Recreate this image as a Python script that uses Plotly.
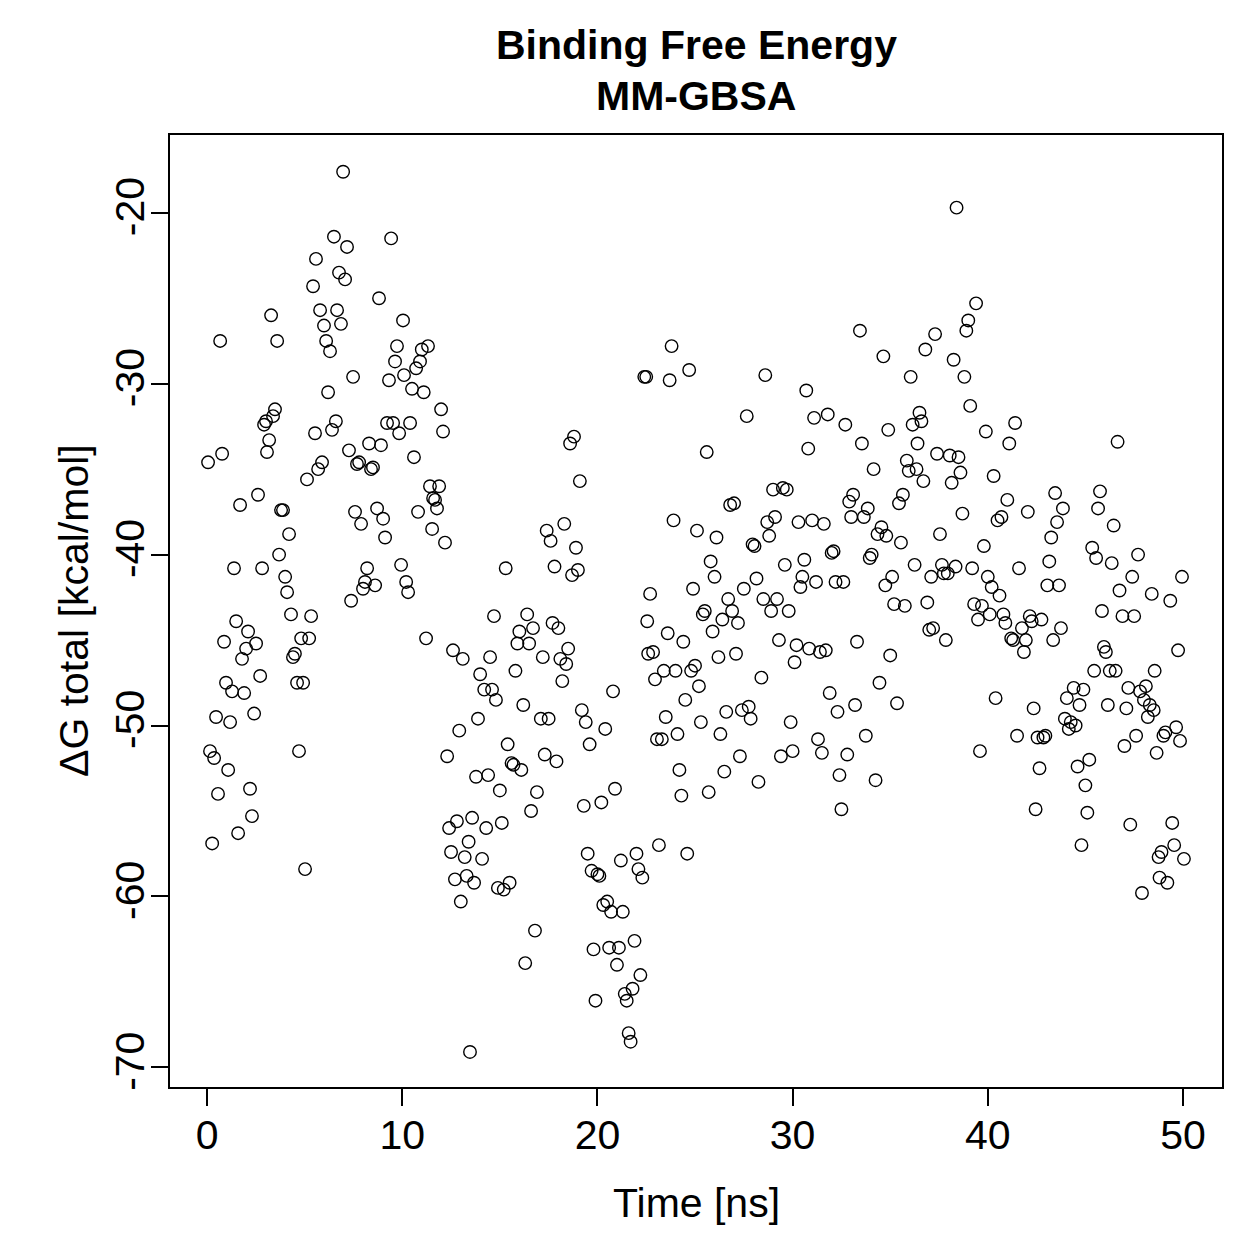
import plotly.graph_objects as go

# Time [ns] and binding free energy [kcal/mol]
time_ns = [
0.05,0.15,0.26,0.36,0.46,0.56,0.67,0.77,0.87,0.97,1.08,1.18,1.28,1.38,1.49,1.59,1.69,1.79,1.90,2.0,
2.1,2.2,2.3,2.41,2.51,2.61,2.72,2.82,2.92,3.02,3.07,3.18,3.28,3.38,3.48,3.59,3.69,3.79,3.89,4.0,
4.1,4.2,4.3,4.4,4.5,4.61,4.71,4.82,4.92,5.02,5.12,5.23,5.33,5.43,5.53,5.58,5.69,5.79,5.89,5.99,
6.1,6.2,6.3,6.4,6.5,6.6,6.66,6.76,6.86,6.97,7.07,7.17,7.27,7.38,7.48,7.58,7.68,7.79,7.89,7.99,
8.09,8.2,8.3,8.4,8.5,8.61,8.71,8.81,8.91,9.02,9.12,9.22,9.32,9.43,9.53,9.63,9.73,9.84,9.94,10.04,
10.09,10.2,10.3,10.4,10.5,10.6,10.71,10.81,10.91,11.0,11.1,11.22,11.32,11.42,11.53,11.58,11.68,11.78,11.89,11.99,
12.09,12.19,12.3,12.4,12.5,12.6,12.7,12.8,12.92,13.0,13.1,13.2,13.3,13.4,13.47,13.58,13.68,13.78,13.88,13.99,
14.09,14.2,14.3,14.4,14.5,14.6,14.7,14.8,14.9,15.0,15.1,15.2,15.3,15.4,15.5,15.6,15.7,15.8,15.9,16.0,
16.1,16.2,16.3,16.4,16.5,16.6,16.7,16.8,16.9,17.1,17.2,17.3,17.4,17.5,17.6,17.7,17.8,17.9,18.0,18.1,
18.2,18.3,18.4,18.5,18.6,18.7,18.8,18.9,19.0,19.1,19.2,19.3,19.4,19.5,19.6,19.7,19.8,19.9,20.0,20.1,
20.2,20.3,20.4,20.5,20.6,20.7,20.8,20.9,21.0,21.1,21.2,21.3,21.4,21.5,21.6,21.7,21.8,21.9,22.0,22.1,
22.2,22.3,22.4,22.5,22.55,22.6,22.7,22.85,22.95,23.05,23.15,23.3,23.4,23.5,23.6,23.7,23.8,23.9,24.0,24.1,
24.2,24.3,24.4,24.5,24.6,24.7,24.8,24.9,25.0,25.1,25.2,25.3,25.4,25.5,25.6,25.7,25.8,25.9,26.0,26.1,
26.2,26.3,26.4,26.5,26.6,26.7,26.8,26.9,27.0,27.1,27.2,27.3,27.4,27.5,27.65,27.75,27.85,27.95,28.05,28.15,
28.25,28.4,28.5,28.6,28.7,28.8,28.9,29.0,29.1,29.2,29.3,29.4,29.5,29.6,29.7,29.8,29.9,30.0,30.1,30.2,
30.3,30.4,30.5,30.6,30.7,30.8,30.85,31.0,31.1,31.2,31.3,31.4,31.5,31.6,31.7,31.8,31.9,32.0,32.1,32.2,
32.3,32.4,32.5,32.6,32.7,32.8,32.9,33.0,33.1,33.2,33.3,33.45,33.55,33.65,33.75,33.85,33.95,34.05,34.15,34.25,
34.35,34.45,34.55,34.65,34.75,34.8,34.9,35.0,35.1,35.2,35.35,35.45,35.55,35.65,35.75,35.85,35.95,36.05,36.15,36.25,
36.35,36.4,36.5,36.6,36.7,36.8,36.9,37.0,37.1,37.2,37.3,37.4,37.55,37.65,37.75,37.85,37.95,38.05,38.15,38.25,
38.35,38.4,38.5,38.6,38.7,38.8,38.9,39.0,39.1,39.2,39.3,39.4,39.5,39.6,39.7,39.8,39.9,40.0,40.1,40.2,
40.3,40.4,40.5,40.6,40.7,40.8,40.9,41.0,41.1,41.2,41.3,41.4,41.5,41.6,41.75,41.85,41.95,42.05,42.15,42.25,
42.35,42.45,42.55,42.65,42.75,42.85,42.95,43.05,43.15,43.25,43.35,43.45,43.55,43.65,43.75,43.85,43.95,44.05,44.15,44.25,
44.4,44.5,44.6,44.7,44.8,44.9,45.0,45.1,45.2,45.35,45.45,45.55,45.65,45.75,45.85,45.95,46.05,46.15,46.25,46.35,
46.45,46.55,46.65,46.75,46.9,47.0,47.1,47.2,47.3,47.4,47.5,47.6,47.7,47.8,47.9,48.0,48.1,48.2,48.3,48.4,
48.5,48.55,48.65,48.75,48.8,48.9,49.0,49.1,49.2,49.35,49.45,49.55,49.65,49.75,49.85,49.95,50.05
]

delta_g = [
-34.6,-51.5,-56.9,-51.9,-49.5,-54.0,-27.5,-34.1,-45.1,-47.5,-52.6,-49.8,-48.0,-40.8,-43.9,-56.3,-37.1,-46.1,-48.1,-45.5,
-44.5,-53.7,-55.3,-49.3,-45.2,-36.5,-47.1,-40.8,-32.4,-32.2,-34.0,-33.3,-26.0,-31.9,-31.5,-27.5,-40.0,-37.4,-37.4,-41.3,
-42.2,-38.8,-43.5,-46.0,-45.8,-47.5,-51.5,-44.9,-47.5,-58.4,-35.6,-44.9,-43.6,-24.3,-32.9,-22.7,-35.0,-25.7,-34.6,-26.6,
-27.5,-30.5,-28.1,-32.7,-21.4,-32.2,-25.7,-23.5,-26.5,-17.6,-23.9,-22.0,-33.9,-42.7,-29.6,-37.5,-34.7,-34.6,-38.2,-42.0,
-41.6,-40.8,-33.5,-35.0,-34.9,-41.8,-37.3,-25.0,-33.6,-37.9,-39.0,-32.3,-29.8,-21.5,-32.3,-28.7,-27.8,-32.9,-40.6,-26.3,
-29.5,-41.6,-42.2,-32.3,-30.3,-34.3,-29.1,-37.5,-28.7,-28.0,-30.5,-44.9,-27.8,-36.0,-38.5,-36.7,-36.8,-37.3,-36.0,-31.5,
-32.8,-39.3,-51.8,-56.0,-57.4,-45.6,-59.0,-55.6,-50.3,-60.3,-46.1,-57.7,-58.8,-56.8,-69.1,-55.4,-59.2,-53.0,-49.6,-47.0,
-57.8,-47.9,-56.0,-52.9,-46.0,-47.9,-43.6,-48.5,-59.5,-53.8,-55.7,-59.6,-40.8,-51.1,-59.2,-52.2,-52.3,-46.8,-45.2,-44.5,
-52.6,-48.8,-63.9,-43.5,-45.2,-55.0,-44.3,-62.0,-53.9,-49.6,-46.0,-51.7,-38.6,-49.6,-39.2,-44.0,-40.7,-52.1,-44.3,-46.1,
-47.4,-38.2,-46.4,-45.5,-33.5,-41.2,-33.1,-39.6,-40.9,-35.7,-49.1,-54.7,-49.8,-57.5,-51.1,-58.5,-63.1,-66.1,-58.7,-58.8,
-54.5,-60.5,-50.2,-60.3,-63.0,-60.9,-48.0,-53.7,-64.0,-63.0,-57.9,-60.9,-65.7,-66.1,-68.0,-68.5,-65.4,-62.6,-57.5,-58.4,
-64.6,-58.9,-29.6,-29.6,-43.9,-45.8,-42.3,-45.7,-47.3,-50.8,-57.0,-50.8,-46.8,-49.5,-44.6,-29.8,-27.8,-38.0,-46.8,-50.5,
-52.6,-54.1,-45.1,-48.5,-57.5,-29.2,-46.8,-42.0,-46.5,-38.6,-47.7,-49.8,-43.5,-43.3,-34.0,-53.9,-40.4,-44.5,-41.3,-39.0,
-46.0,-50.5,-43.8,-52.7,-49.2,-42.6,-37.1,-43.3,-37.0,-45.8,-44.0,-51.8,-49.1,-42.0,-31.9,-48.9,-49.6,-39.4,-39.5,-41.4,
-53.3,-47.2,-42.6,-29.5,-38.1,-38.9,-43.3,-36.2,-37.8,-42.6,-45.0,-51.8,-36.1,-40.6,-36.2,-43.3,-49.8,-51.5,-46.3,-45.3,
-38.1,-41.9,-41.3,-40.3,-30.4,-33.8,-45.5,-38.0,-32.0,-41.6,-50.8,-45.7,-51.6,-38.2,-45.6,-31.8,-48.1,-39.9,-39.8,-41.6,
-49.2,-52.9,-54.9,-41.6,-32.4,-51.7,-36.9,-37.8,-36.5,-48.8,-45.1,-26.9,-33.5,-37.8,-50.6,-37.3,-40.2,-40.0,-35.0,-53.2,
-38.8,-47.5,-38.4,-28.4,-41.8,-38.9,-32.7,-45.9,-41.3,-42.9,-48.7,-37.0,-39.3,-36.5,-43.0,-34.5,-35.1,-29.6,-32.4,-40.6,
-35.0,-33.5,-31.7,-32.2,-35.7,-28.0,-42.8,-44.4,-41.3,-44.3,-27.1,-34.1,-38.8,-40.6,-41.1,-45.0,-41.1,-34.2,-35.8,-28.6,
-40.7,-19.7,-34.3,-35.2,-37.6,-29.6,-26.9,-26.3,-31.3,-40.8,-42.9,-25.3,-43.8,-51.5,-43.0,-39.5,-32.8,-41.3,-43.5,-41.9,
-35.4,-48.4,-38.0,-42.4,-37.8,-43.5,-44.0,-36.8,-33.5,-44.9,-45.0,-32.3,-50.6,-40.8,-44.3,-45.7,-45.0,-37.5,-43.6,-43.9,
-49.0,-54.9,-50.7,-52.5,-43.8,-50.7,-50.6,-41.8,-40.4,-39.0,-45.0,-36.4,-38.1,-41.8,-44.3,-37.3,-49.6,-48.4,-50.2,-49.8,
-47.8,-50.0,-52.4,-48.8,-57.0,-47.9,-53.5,-55.1,-52.0,-39.6,-46.8,-40.2,-37.3,-36.3,-43.3,-45.4,-45.7,-48.8,-46.8,-40.5,
-38.3,-46.8,-33.4,-42.1,-43.6,-51.2,-49.0,-47.8,-55.8,-41.3,-43.6,-50.6,-40.0,-48.0,-59.8,-48.5,-47.7,-49.5,-48.8,-42.3,
-49.1,-46.8,-51.6,-57.7,-58.9,-57.4,-50.6,-50.4,-59.2,-42.7,-55.7,-57.0,-50.1,-45.6,-50.9,-41.3,-57.8
]

x_ticks = [0, 10, 20, 30, 40, 50]
x_tick_labels = ["0", "10", "20", "30", "40", "50"]
y_ticks = [-20, -30, -40, -50, -60, -70]
y_tick_labels = ["-20", "-30", "-40", "-50", "-60", "-70"]

FONT = "Liberation Sans, Arial, sans-serif"
LABEL_SIZE = 41

fig = go.Figure()
fig.add_trace(go.Scatter(
    x=time_ns, y=delta_g, mode="markers",
    marker=dict(symbol="circle-open", size=12.5, color="black", line=dict(width=1.4, color="black")),
    showlegend=False, hoverinfo="x+y",
))

axis_common = dict(
    showline=True, linecolor="black", linewidth=2, mirror=True,
    ticks="outside", ticklen=17, tickwidth=2, tickcolor="black",
    showgrid=False, zeroline=False,
    tickfont=dict(family=FONT, size=LABEL_SIZE, color="black"),
)

fig.update_layout(
    width=1259, height=1259,
    margin=dict(l=170, r=37, t=135, b=172),
    paper_bgcolor="white", plot_bgcolor="white",
    xaxis=dict(range=[-1.9, 52.0], tickvals=x_ticks, ticktext=x_tick_labels,
               ticklabelstandoff=-6, **axis_common),
    yaxis=dict(range=[-71.15, -15.45], tickvals=y_ticks, ticktext=y_tick_labels,
               tickangle=-90, ticklabelstandoff=-9, **axis_common),
    annotations=[
        dict(text="<b>Binding Free Energy</b>", xref="paper", yref="paper", x=0.5, y=1,
             yshift=135 - 45, showarrow=False, yanchor="middle",
             font=dict(family=FONT, size=41, color="black")),
        dict(text="<b>MM-GBSA</b>", xref="paper", yref="paper", x=0.5, y=1,
             yshift=135 - 96, showarrow=False, yanchor="middle",
             font=dict(family=FONT, size=41, color="black")),
        dict(text="Time [ns]", xref="paper", yref="paper", x=0.5, y=0,
             yshift=-(1203 - 1087), showarrow=False, yanchor="middle",
             font=dict(family=FONT, size=LABEL_SIZE, color="black")),
        dict(text="ΔG total [kcal/mol]", xref="paper", yref="paper", x=0, y=0.5,
             xshift=-(170 - 74), showarrow=False, xanchor="center", yanchor="middle",
             textangle=-90, font=dict(family=FONT, size=LABEL_SIZE, color="black")),
    ],
)

fig.write_html("out.html")
